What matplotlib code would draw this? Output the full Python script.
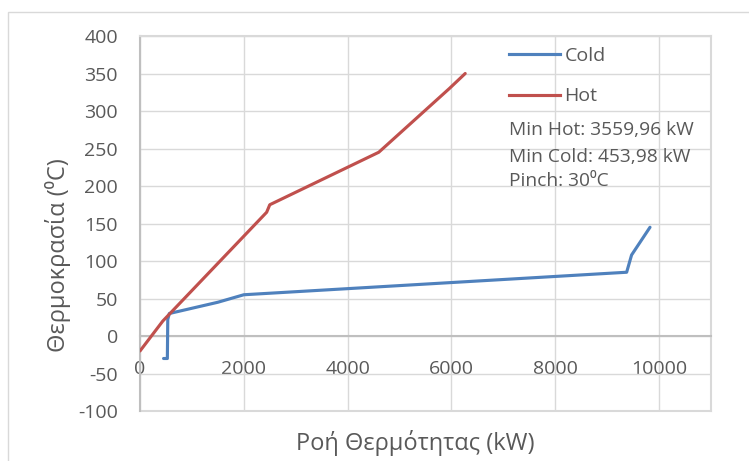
import matplotlib
matplotlib.use("Agg")
import matplotlib.pyplot as plt
from matplotlib.lines import Line2D
from matplotlib.patches import Rectangle

plt.rcParams['font.family'] = ['Open Sans', 'DejaVu Sans']
plt.rcParams['axes.unicode_minus'] = False

# composite curves: heat flow (kW) vs temperature (C)
hot_q = [0, 440, 2440, 2500, 4600, 5960, 6265]
hot_t = [-20, 20, 165, 175, 245, 330, 350]
cold_q = [453.98, 527, 535, 565, 1500, 2000, 9375, 9470, 9825]
cold_t = [-30, -30, 22, 30, 45, 55, 85, 108, 145]

min_hot = "3559,96"
min_cold = "453,98"
pinch = 30

x_ticks = [0, 2000, 4000, 6000, 8000, 10000]
y_ticks = list(range(-100, 401, 50))

blue = '#4f81bd'
red = '#c0504d'
grid = '#d9d9d9'
txt = '#595959'

W, H = 749, 461
fig = plt.figure(figsize=(W / 100, H / 100), dpi=100)
ax = fig.add_axes([140 / W, 1 - 411 / H, 571 / W, 375 / H])

ax.plot(cold_q, cold_t, color=blue, lw=2.25, solid_capstyle='round', solid_joinstyle='round', zorder=3)
ax.plot(hot_q, hot_t, color=red, lw=2.25, solid_capstyle='round', solid_joinstyle='round', zorder=3)

ax.set_xlim(0, 11000)
ax.set_ylim(-100, 400)
ax.set_xticks(x_ticks)
ax.set_yticks(y_ticks)
ax.grid(True, color=grid, lw=1)
ax.set_axisbelow(True)
ax.axhline(-100, color=grid, lw=1.5, clip_on=False, zorder=0)

for s in ['top', 'right']:
    ax.spines[s].set_color(grid)
    ax.spines[s].set_linewidth(1.5)
ax.spines['left'].set_color('#bfbfbf')
ax.spines['left'].set_linewidth(1.5)
ax.spines['bottom'].set_position(('data', 0))
ax.spines['bottom'].set_color('#bfbfbf')
ax.spines['bottom'].set_linewidth(1.5)

ax.tick_params(axis='both', length=0, labelsize=14, labelcolor=txt)
ax.tick_params(axis='x', pad=17)
ax.tick_params(axis='y', pad=16)

handles = [Line2D([], [], color=blue, lw=2.25), Line2D([], [], color=red, lw=2.25)]
ax.legend(handles, ['Cold', 'Hot'], loc='upper left', bbox_to_anchor=(509 / W, 1 - 47 / H),
          bbox_transform=fig.transFigure, frameon=False, fontsize=14, labelcolor=txt,
          handlelength=2.6, handletextpad=0.25, borderpad=0, borderaxespad=0, labelspacing=1.15)

fig.text(509 / W, 1 - 130 / H, f"Min Hot: {min_hot} kW", va='center', fontsize=13.8, color=txt)
fig.text(509 / W, 1 - 157 / H, f"Min Cold: {min_cold} kW", va='center', fontsize=13.8, color=txt)
fig.text(509 / W, 1 - 181 / H, f"Pinch: {pinch}\u2070C", va='center', fontsize=13.8, color=txt)

fig.text(58 / W, 1 - 255 / H, "Θερμοκρασία (\u2070C)", rotation=90, ha='center', va='center',
         fontsize=17, color=txt)
fig.text(415 / W, 1 - 443 / H, "Ροή Θερμότητας (kW)", ha='center', va='center',
         fontsize=17, color=txt)

# outer chart border
fig.patches.append(Rectangle((8 / W, -0.1), 1.2, 1.1 - 12 / H, transform=fig.transFigure,
                             fill=False, ec=grid, lw=1))

fig.savefig('out.png', dpi=100)
